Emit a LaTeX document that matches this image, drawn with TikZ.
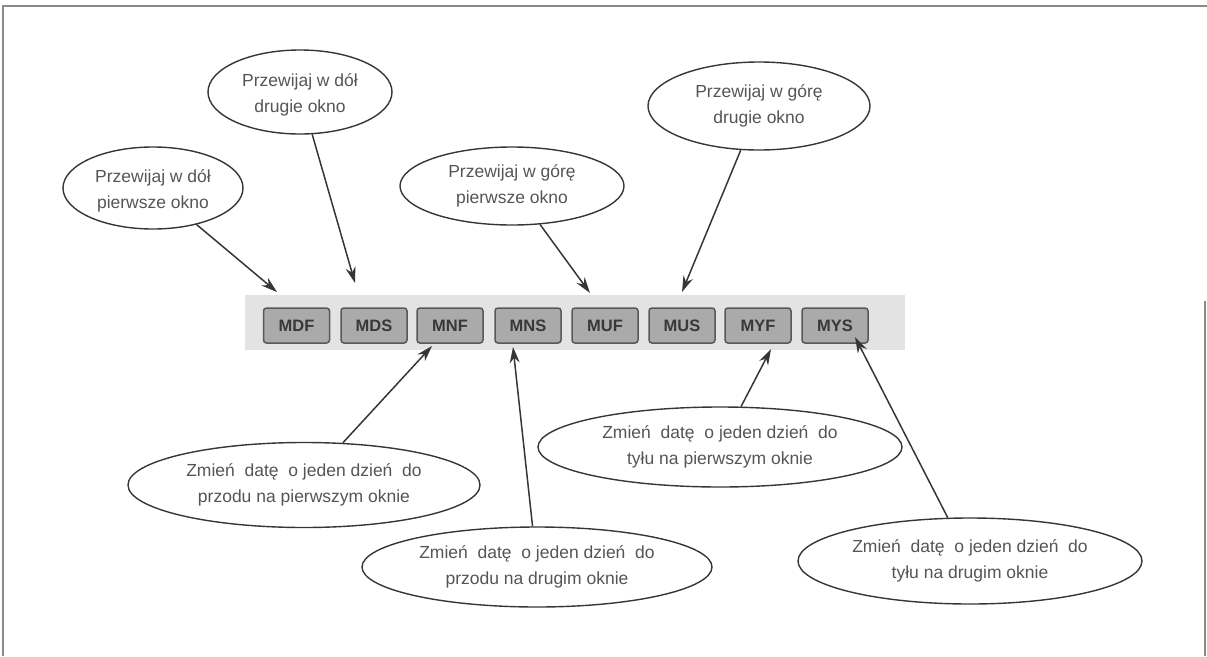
\documentclass[tikz,border=0pt]{standalone}
\usepackage{fontspec}
\setmainfont{Liberation Sans}
\usetikzlibrary{shapes.geometric,arrows.meta}
\definecolor{inkc}{HTML}{363636}
\definecolor{txtc}{HTML}{555555}
\definecolor{bandc}{HTML}{E3E3E3}
\definecolor{btnc}{HTML}{AAAAAA}
\definecolor{btnbd}{HTML}{585858}
\definecolor{btntx}{HTML}{383838}
\definecolor{framec}{HTML}{8A8A8A}
\begin{document}
\begin{tikzpicture}[x=1pt,y=-1pt,
  bubble/.style={draw=inkc,line width=1.4pt,ellipse,inner sep=0pt},
  btext/.style={align=center,text=txtc,inner sep=0pt,font=\fontsize{17.5}{26}\selectfont},
  btn/.style={draw=btnbd,fill=btnc,rounded corners=3pt,minimum width=66pt,minimum height=35pt,
    font=\bfseries\fontsize{16.5}{18}\selectfont,text=btntx,line width=1.5pt,inner sep=0pt},
  pointer/.style={draw=inkc,line width=1.5pt,-{Stealth[length=16pt,width=10pt]}}]
\useasboundingbox (0,0) rectangle (1207,656);
% frame
\draw[framec,line width=1.2pt] (3,656) -- (3,6) -- (1207,6);
\draw[framec,line width=1.2pt] (1205,301) -- (1205,656);
% toolbar band
\fill[bandc] (245,295) rectangle (905,350);
% buttons
\node[btn] (mdf) at (296.5,325.5) {MDF};
\node[btn] (mds) at (374,325.5) {MDS};
\node[btn] (mnf) at (450,325.5) {MNF};
\node[btn] (mns) at (528,325.5) {MNS};
\node[btn] (muf) at (605,325.5) {MUF};
\node[btn] (mus) at (682,325.5) {MUS};
\node[btn] (myf) at (758,325.5) {MYF};
\node[btn] (mys) at (835,325.5) {MYS};
% arrow tips
\coordinate (t1) at (277,292);
\coordinate (t2) at (355,283);
\coordinate (t3) at (590,293);
\coordinate (t4) at (682,292);
\coordinate (t5) at (432,346);
\coordinate (t6) at (513,347);
\coordinate (t7) at (771,349);
\coordinate (t8) at (855,337);
% bubbles
\node[bubble,minimum width=180pt,minimum height=82pt] (e1) at (153,188) {};
\node[btext] at (153,190.5) {Przewijaj w dół\\pierwsze okno};
\node[bubble,minimum width=184pt,minimum height=84pt] (e2) at (300,92) {};
\node[btext] at (300,95) {Przewijaj w dół\\drugie okno};
\node[bubble,minimum width=224pt,minimum height=78pt] (e3) at (512,186) {};
\node[btext] at (e3) {Przewijaj w górę\\pierwsze okno};
\node[bubble,minimum width=222pt,minimum height=88pt] (e4) at (759,106) {};
\node[btext] at (e4) {Przewijaj w górę\\drugie okno};
\node[bubble,minimum width=352pt,minimum height=85pt] (e5) at (304,485) {};
\node[btext] at (e5) {Zmień\ \ datę\ \ o jeden dzień\ \ do\\przodu na pierwszym oknie};
\node[bubble,minimum width=350pt,minimum height=80pt] (e6) at (537,567) {};
\node[btext] at (e6) {Zmień\ \ datę\ \ o jeden dzień\ \ do\\przodu na drugim oknie};
\node[bubble,minimum width=364pt,minimum height=80pt] (e7) at (720,447) {};
\node[btext] at (e7) {Zmień\ \ datę\ \ o jeden dzień\ \ do\\tyłu na pierwszym oknie};
\node[bubble,minimum width=344pt,minimum height=86pt] (e8) at (970,561) {};
\node[btext] at (e8) {Zmień\ \ datę\ \ o jeden dzień\ \ do\\tyłu na drugim oknie};
% connectors
\draw[pointer] (e1) -- (t1);
\draw[pointer] (e2) -- (t2);
\draw[pointer] (e3) -- (t3);
\draw[pointer] (e4) -- (t4);
\draw[pointer] (e5) -- (t5);
\draw[pointer] (e6) -- (t6);
\draw[pointer] (e7) -- (t7);
\draw[pointer] (e8) -- (t8);
\end{tikzpicture}
\end{document}
